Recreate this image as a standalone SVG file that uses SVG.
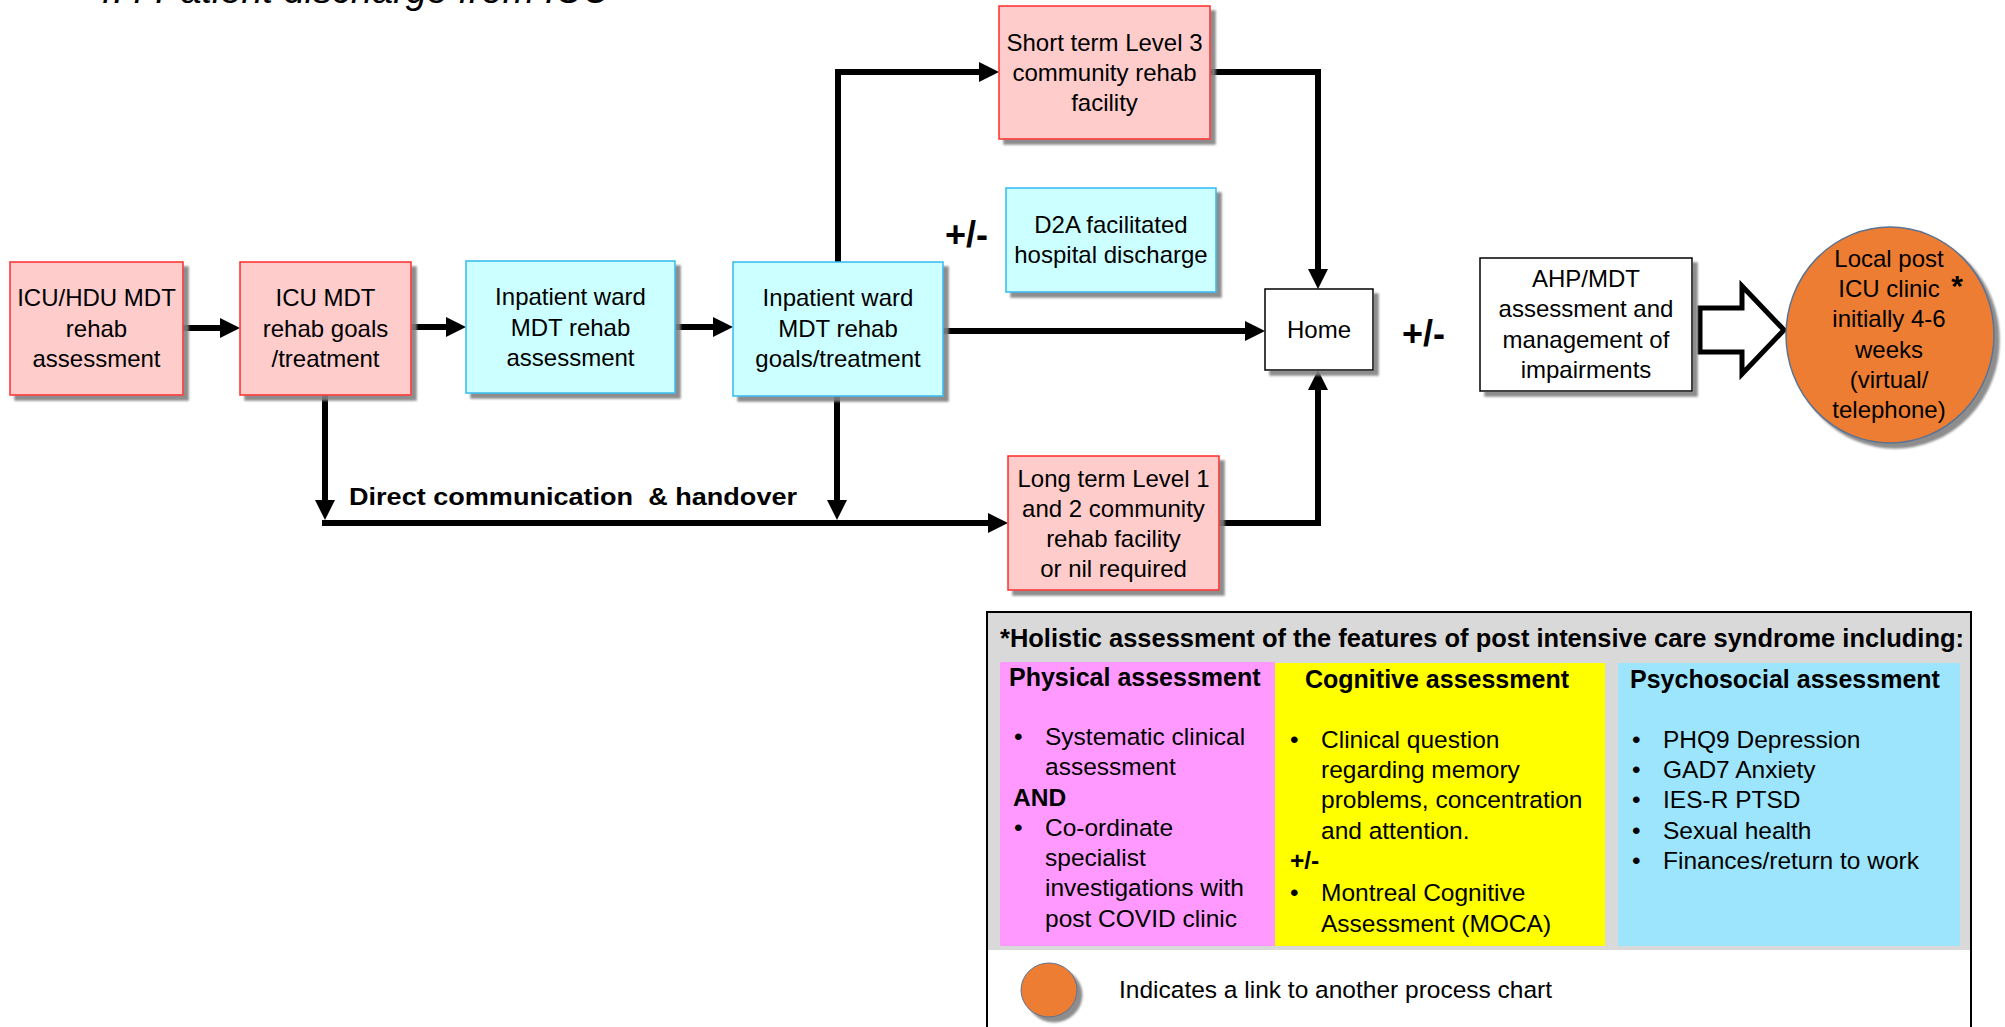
<svg xmlns="http://www.w3.org/2000/svg" width="2005" height="1027" viewBox="0 0 2005 1027">
  <defs>
    <style>
      text { font-family: "Liberation Sans", Arial, sans-serif; fill: #000; }
      .lbl { font-size: 24px; text-anchor: middle; }
      .pm { font-size: 36px; font-weight: bold; }
      .pink { fill: #ffcccc; stroke: #ff2b2b; stroke-width: 1.5; }
      .cyan { fill: #ccffff; stroke: #33bbee; stroke-width: 1.5; }
      .plain { fill: #ffffff; stroke: #000; stroke-width: 1.5; }
      .conn { fill: none; stroke: #000; stroke-width: 6; stroke-linejoin: miter; marker-end: url(#ah); }
      .body { font-size: 24.5px; }
      .head { font-size: 25px; font-weight: bold; }
    </style>
    <marker id="ah" markerUnits="userSpaceOnUse" markerWidth="20" markerHeight="20" viewBox="0 0 20 20" refX="10" refY="10" orient="auto">
      <path d="M0,0 L20,10 L0,20 z" fill="#000"/>
    </marker>
    <filter id="shadow" x="-10%" y="-10%" width="130%" height="130%">
      <feDropShadow dx="5" dy="5" stdDeviation="1.2" flood-color="#808080" flood-opacity="0.9"/>
    </filter>
  </defs>

  <!-- heading, clipped by the top edge -->
  <text x="92" y="3" font-size="36" font-style="italic" textLength="518" lengthAdjust="spacingAndGlyphs">4.4 Patient discharge from ICU</text>

  <!-- connectors -->
  <g id="connectors">
    <path class="conn" d="M183,328 H230"/>
    <path class="conn" d="M411,327 H456"/>
    <path class="conn" d="M675,327 H723"/>
    <path class="conn" d="M838,262 V72 H989"/>
    <path class="conn" d="M1210,72 H1318 V279"/>
    <path class="conn" d="M943,331 H1255"/>
    <path class="conn" d="M325,395 V510"/>
    <path class="conn" d="M837,396 V510"/>
    <path class="conn" d="M322,523 H998"/>
    <path class="conn" d="M1219,523 H1318 V380"/>
    <!-- hollow block arrow towards the clinic -->
    <polygon points="1700,308 1742,308 1742,286 1784,330 1742,374 1742,352 1700,352" fill="#fff" stroke="#000" stroke-width="5" stroke-linejoin="miter"/>
  </g>

  <text x="349" y="505" font-size="24" font-weight="bold" textLength="448" lengthAdjust="spacingAndGlyphs" xml:space="preserve">Direct communication  &amp; handover</text>
  <text class="pm" x="945" y="247">+/-</text>
  <text class="pm" x="1402" y="346">+/-</text>

  <g id="n-icu-hdu">
    <rect class="pink" x="10" y="262" width="173" height="133" filter="url(#shadow)"/>
    <text class="lbl"><tspan x="96.5" y="306">ICU/HDU MDT</tspan><tspan x="96.5" y="337">rehab</tspan><tspan x="96.5" y="367">assessment</tspan></text>
  </g>

  <g id="n-icu-mdt">
    <rect class="pink" x="240" y="262" width="171" height="133" filter="url(#shadow)"/>
    <text class="lbl"><tspan x="325.5" y="306">ICU MDT</tspan><tspan x="325.5" y="337">rehab goals</tspan><tspan x="325.5" y="367">/treatment</tspan></text>
  </g>

  <g id="n-ward-assess">
    <rect class="cyan" x="466" y="261" width="209" height="132" filter="url(#shadow)"/>
    <text class="lbl"><tspan x="570.5" y="305">Inpatient ward</tspan><tspan x="570.5" y="336">MDT rehab</tspan><tspan x="570.5" y="366">assessment</tspan></text>
  </g>

  <g id="n-ward-goals">
    <rect class="cyan" x="733" y="262" width="210" height="134" filter="url(#shadow)"/>
    <text class="lbl"><tspan x="838" y="306">Inpatient ward</tspan><tspan x="838" y="337">MDT rehab</tspan><tspan x="838" y="367">goals/treatment</tspan></text>
  </g>

  <g id="n-short-term">
    <rect class="pink" x="999" y="6" width="211" height="133" filter="url(#shadow)"/>
    <text class="lbl"><tspan x="1104.5" y="51">Short term Level 3</tspan><tspan x="1104.5" y="81">community rehab</tspan><tspan x="1104.5" y="111">facility</tspan></text>
  </g>

  <g id="n-d2a">
    <rect class="cyan" x="1006" y="188" width="210" height="104" filter="url(#shadow)"/>
    <text class="lbl"><tspan x="1111" y="233">D2A facilitated</tspan><tspan x="1111" y="263">hospital discharge</tspan></text>
  </g>

  <g id="n-home">
    <rect class="plain" x="1265" y="289" width="108" height="81" filter="url(#shadow)"/>
    <text class="lbl" x="1319" y="338">Home</text>
  </g>

  <g id="n-long-term">
    <rect class="pink" x="1008" y="456" width="211" height="134" filter="url(#shadow)"/>
    <text class="lbl"><tspan x="1113.5" y="487">Long term Level 1</tspan><tspan x="1113.5" y="517">and 2 community</tspan><tspan x="1113.5" y="547">rehab facility</tspan><tspan x="1113.5" y="577">or nil required</tspan></text>
  </g>

  <g id="n-ahp">
    <rect class="plain" x="1480" y="258" width="212" height="133" filter="url(#shadow)"/>
    <text class="lbl"><tspan x="1586" y="287">AHP/MDT</tspan><tspan x="1586" y="317">assessment and</tspan><tspan x="1586" y="348">management of</tspan><tspan x="1586" y="378">impairments</tspan></text>
  </g>

  <g id="n-clinic">
    <ellipse cx="1890" cy="335" rx="104" ry="108" fill="#ed7d31" stroke="#5b7394" stroke-width="1.5" filter="url(#shadow)"/>
    <text class="lbl"><tspan x="1889" y="267">Local post</tspan><tspan x="1889" y="297">ICU clinic</tspan><tspan x="1889" y="327">initially 4-6</tspan><tspan x="1889" y="358">weeks</tspan><tspan x="1889" y="388">(virtual/</tspan><tspan x="1889" y="418">telephone)</tspan></text>
    <text x="1957" y="296" font-size="30" font-weight="bold" text-anchor="middle">*</text>
  </g>

  <!-- holistic assessment panel -->
  <g id="n-holistic">
    <rect x="987" y="612" width="984" height="430" fill="#ffffff" stroke="#000" stroke-width="2"/>
    <rect x="988" y="613" width="982" height="337" fill="#d9d9d9"/>
    <text x="1000" y="647" font-size="25" font-weight="bold" textLength="964" lengthAdjust="spacingAndGlyphs">*Holistic assessment of the features of post intensive care syndrome including:</text>

    <rect x="1000" y="662" width="275" height="284" fill="#ff99ff"/>
    <rect x="1275" y="663" width="330" height="283" fill="#ffff00"/>
    <rect x="1618" y="663" width="342" height="283" fill="#9de5fd"/>

    <text class="head" x="1009" y="686">Physical assessment</text>
    <text class="head" x="1305" y="688">Cognitive assessment</text>
    <text class="head" x="1630" y="688">Psychosocial assessment</text>

    <text class="body">
      <tspan x="1014" y="745">•</tspan><tspan x="1045" y="745">Systematic clinical</tspan>
      <tspan x="1045" y="775">assessment</tspan>
      <tspan x="1013" y="806" font-weight="bold">AND</tspan>
      <tspan x="1014" y="836">•</tspan><tspan x="1045" y="836">Co-ordinate</tspan>
      <tspan x="1045" y="866">specialist</tspan>
      <tspan x="1045" y="896">investigations with</tspan>
      <tspan x="1045" y="927">post COVID clinic</tspan>
    </text>

    <text class="body">
      <tspan x="1290" y="748">•</tspan><tspan x="1321" y="748">Clinical question</tspan>
      <tspan x="1321" y="778">regarding memory</tspan>
      <tspan x="1321" y="808">problems, concentration</tspan>
      <tspan x="1321" y="839">and attention.</tspan>
      <tspan x="1290" y="869" font-weight="bold">+/-</tspan>
      <tspan x="1290" y="901">•</tspan><tspan x="1321" y="901">Montreal Cognitive</tspan>
      <tspan x="1321" y="932">Assessment (MOCA)</tspan>
    </text>

    <text class="body">
      <tspan x="1632" y="748">•</tspan><tspan x="1663" y="748">PHQ9 Depression</tspan>
      <tspan x="1632" y="778">•</tspan><tspan x="1663" y="778">GAD7 Anxiety</tspan>
      <tspan x="1632" y="808">•</tspan><tspan x="1663" y="808">IES-R PTSD</tspan>
      <tspan x="1632" y="839">•</tspan><tspan x="1663" y="839">Sexual health</tspan>
      <tspan x="1632" y="869">•</tspan><tspan x="1663" y="869">Finances/return to work</tspan>
    </text>

    <!-- legend -->
    <ellipse cx="1049" cy="990" rx="28" ry="27" fill="#ed7d31" stroke="#5b7394" stroke-width="1" filter="url(#shadow)"/>
    <text class="body" x="1119" y="998">Indicates a link to another process chart</text>
  </g>
</svg>
